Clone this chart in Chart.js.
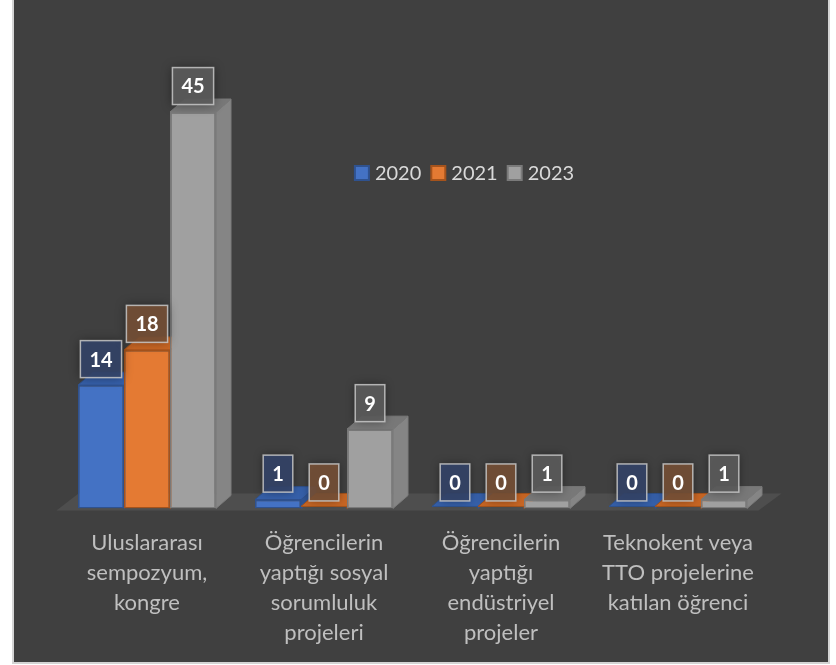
<!DOCTYPE html>
<html>
<head>
<meta charset="utf-8">
<script src="https://cdn.jsdelivr.net/npm/chart.js@4.4.1/dist/chart.umd.min.js"></script>
<style>
  body { margin: 0; background: #ffffff; }
  #wrap { position: absolute; left: 12px; top: -2px; width: 814px; height: 662px; border: 2px solid #d4d4d4; background: #404040; }
  canvas { display: block; }
</style>
</head>
<body>
<div id="wrap"><canvas id="myChart" width="814" height="662"></canvas></div>
<script>
let ctx = document.getElementById('myChart').getContext('2d');

let categories = [
    ['Uluslararası', 'sempozyum,', 'kongre'],
    ['Öğrencilerin', 'yaptığı sosyal', 'sorumluluk', 'projeleri'],
    ['Öğrencilerin', 'yaptığı', 'endüstriyel', 'projeler'],
    ['Teknokent veya', 'TTO projelerine', 'katılan öğrenci']
];
let years = ['2020', '2021', '2023'];
let values2020 = [14, 1, 0, 0];
let values2021 = [18, 0, 0, 0];
let values2023 = [45, 9, 1, 1];

// front, top, side, label box, border
let faceColors = [
    { front: '#4472c4', top: '#3660aa', side: '#2f5495', box: 'rgba(52,68,104,0.9)', border: '#2f528f' },
    { front: '#e47a33', top: '#c86624', side: '#b05a1e', box: 'rgba(118,80,54,0.9)', border: '#a5531c' },
    { front: '#a0a0a0', top: '#787878', side: '#858585', box: 'rgba(92,92,92,0.9)', border: '#7a7a7a' }
];

let dx = 15, dy = 13; // bar depth

let depthPlugin = {
    id: 'depth',
    beforeDatasetsDraw(chart) {
        let c = chart.ctx;
        let area = chart.chartArea;
        c.save();
        // floor
        c.fillStyle = '#4e4e4e';
        c.beginPath();
        c.moveTo(area.left - 2, area.bottom + 2);
        c.lineTo(area.right - 8, area.bottom + 2);
        c.lineTo(area.right + 15, area.bottom - 15);
        c.lineTo(area.left + 20, area.bottom - 15);
        c.closePath();
        c.fill();

        // side and top faces, left to right so the next bar covers the previous
        chart.data.labels.forEach((lab, i) => {
            chart.data.datasets.forEach((ds, d) => {
                let bar = chart.getDatasetMeta(d).data[i];
                let l = bar.x - bar.width / 2, r = bar.x + bar.width / 2;
                let t = Math.min(bar.y, bar.base - 2), b = bar.base;
                let col = faceColors[d];
                c.strokeStyle = col.border;
                c.lineWidth = 1;
                // side
                c.fillStyle = col.side;
                c.beginPath();
                c.moveTo(r, b);
                c.lineTo(r + dx, b - dy);
                c.lineTo(r + dx, t - dy);
                c.lineTo(r, t);
                c.closePath();
                c.fill();
                c.stroke();
                // top
                c.fillStyle = col.top;
                c.beginPath();
                c.moveTo(l, t);
                c.lineTo(r, t);
                c.lineTo(r + dx, t - dy);
                c.lineTo(l + dx, t - dy);
                c.closePath();
                c.fill();
                c.stroke();
            });
        });
        c.restore();
    }
};

let labelPlugin = {
    id: 'boxLabels',
    afterDatasetsDraw(chart) {
        let c = chart.ctx;
        c.save();
        c.font = 'bold 20px Lato';
        c.textAlign = 'center';
        c.textBaseline = 'middle';
        chart.data.datasets.forEach((ds, d) => {
            chart.getDatasetMeta(d).data.forEach((bar, i) => {
                let txt = String(ds.data[i]);
                let w = c.measureText(txt).width + 18;
                let h = 37;
                let cx = bar.x, cy = bar.y - 26;
                c.shadowColor = 'rgba(0,0,0,0.45)';
                c.shadowBlur = 10;
                c.fillStyle = faceColors[d].box;
                c.fillRect(cx - w / 2, cy - h / 2, w, h);
                c.shadowBlur = 0;
                c.strokeStyle = 'rgba(200,200,200,0.85)';
                c.lineWidth = 1.5;
                c.strokeRect(cx - w / 2, cy - h / 2, w, h);
                c.fillStyle = '#ffffff';
                c.fillText(txt, cx, cy + 1);
            });
        });
        c.restore();
    }
};

let legendPlugin = {
    id: 'floatLegend',
    afterDraw(chart) {
        let c = chart.ctx;
        let area = chart.chartArea;
        c.save();
        c.font = '20px Lato';
        c.textBaseline = 'middle';
        let items = chart.data.datasets.map(ds => ds.label);
        let total = 0;
        items.forEach((t, k) => { total += 14 + 6 + c.measureText(t).width + (k < items.length - 1 ? 10 : 0); });
        let x = (area.left + area.right) / 2 + 52 - total / 2;
        let y = 173;
        items.forEach((t, k) => {
            c.fillStyle = faceColors[k].front;
            c.strokeStyle = faceColors[k].border;
            c.lineWidth = 2;
            c.fillRect(x, y - 7, 14, 14);
            c.strokeRect(x, y - 7, 14, 14);
            x += 20;
            c.fillStyle = '#d9d9d9';
            c.fillText(t, x, y + 1);
            x += c.measureText(t).width + 10;
        });
        c.restore();
    }
};

let myChart = new Chart(ctx, {
    type: 'bar',
    data: {
        labels: categories,
        datasets: years.map((y, k) => ({
            label: y,
            data: [values2020, values2021, values2023][k],
            backgroundColor: faceColors[k].front,
            borderColor: faceColors[k].border,
            borderWidth: 1.5,
            borderSkipped: false,
            categoryPercentage: 0.78,
            barPercentage: 1
        }))
    },
    options: {
        responsive: false,
        animation: false,
        layout: { padding: { left: 44.5, right: 61.5, top: 68, bottom: -5 } },
        plugins: {
            legend: { display: false },
            tooltip: { enabled: false }
        },
        scales: {
            x: {
                grid: { display: false, drawTicks: false },
                border: { display: false },
                ticks: {
                    color: '#bfbfbf',
                    font: { family: 'Lato', size: 22, lineHeight: 1.37 },
                    padding: 19,
                    maxRotation: 0,
                    autoSkip: false
                }
            },
            y: { display: false, min: 0, max: 50 }
        }
    },
    plugins: [depthPlugin, labelPlugin, legendPlugin]
});
</script>
</body>
</html>
